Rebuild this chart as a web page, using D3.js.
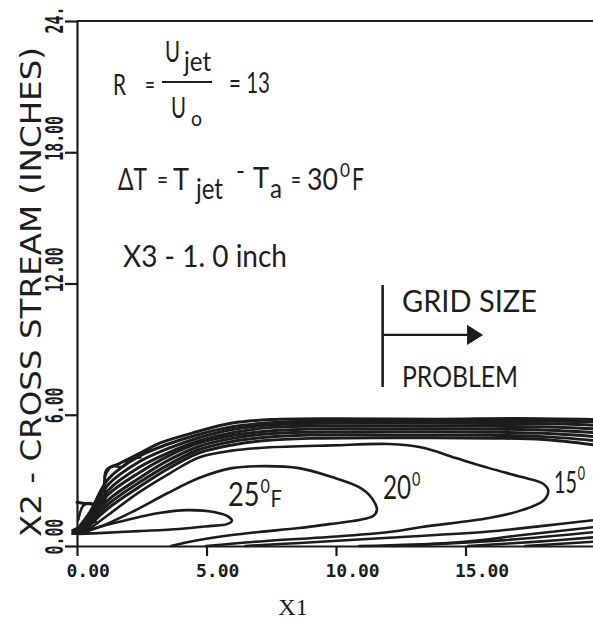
<!DOCTYPE html>
<html>
<head>
<meta charset="utf-8">
<script src="https://cdn.jsdelivr.net/npm/d3@7"></script>
<style>
  body { margin: 0; background: #fff; }
  svg { display: block; }
  .ann { font-family: Lato, "Open Sans", sans-serif; fill: #1e1e1e; }
  .iso { fill: none; stroke: #1c1c1c; stroke-width: 2.6; stroke-linejoin: round; stroke-linecap: round; }
  .iso.edge { stroke-width: 3; }
</style>
</head>
<body>
<div class="js-chart"></div>
<script>
// axis ticks
var xTicks = [0, 5, 10, 15];
var xTickLabels = ['0.00', '5.00', '10.00', '15.00'];
var yTicks = [0, 6, 12, 18, 24];
var yTickLabels = ['0.00', '6.00', '12.00', '18.00', '24.'];

// isotherms, [x1, x2] in inches
var iso25 = [[0.08, 0.59], [0.85, 0.87], [1.93, 1.19], [3.17, 1.51], [4.25, 1.64], [5.29, 1.55], [5.87, 1.32],
  [5.98, 1.14], [5.79, 1.0], [5.1, 0.91], [3.94, 0.78], [2.39, 0.68], [0.85, 0.59], [0.08, 0.55]];
var iso20 = [[0.27, 0.64], [1.04, 0.95], [2.2, 1.6], [3.47, 2.4], [4.71, 3.11], [5.98, 3.56], [7.3, 3.65],
  [8.57, 3.56], [9.85, 3.15], [10.89, 2.69], [11.35, 2.24], [11.58, 1.64], [11.43, 1.37], [10.89, 1.19],
  [9.73, 1.0], [8.57, 0.82], [7.03, 0.64], [5.98, 0.5], [4.71, 0.27], [3.63, 0]];
var iso15 = [[0.39, 0.7], [1.24, 1.45], [2.39, 2.45], [3.55, 3.3], [4.71, 4.05], [5.98, 4.36], [7.3, 4.5],
  [9.85, 4.6], [12.05, 4.66], [13.32, 4.5], [14.63, 4.02], [15.91, 3.56], [17.18, 3.15], [17.95, 2.88],
  [18.19, 2.56], [18.03, 2.1], [17.18, 1.64], [15.91, 1.28], [13.32, 0.87], [12.05, 0.64], [9.73, 0.41],
  [7.3, 0.23], [4.98, 0]];

// the tight band along the edge of the jet
var edge1 = [[0, 2.0], [1.04, 2.0], [1.06, 2.9], [1.14, 3.47], [1.6, 3.75], [2.53, 4.3], [3.19, 4.7], [4.47, 5.17],
  [6.0, 5.62], [7.5, 5.78], [10, 5.82], [14, 5.8], [17, 5.83], [20, 5.78]];
var edge2 = [[0.1, 0.9], [0.5, 1.55], [1.2, 3.05], [2.4, 4.1], [3.5, 4.65], [4.7, 5.1], [6, 5.45], [7.3, 5.62],
  [9, 5.7], [12, 5.72], [16, 5.7], [18, 5.72], [20, 5.68]];
var edge3 = [[0.15, 0.88], [0.5, 1.45], [1.2, 2.8], [2.4, 3.85], [3.5, 4.45], [4.7, 4.95], [6, 5.33], [7.3, 5.52],
  [9, 5.6], [12, 5.62], [16, 5.6], [18, 5.6], [20, 5.52]];
var edge4 = [[0.2, 0.85], [0.5, 1.35], [1.2, 2.55], [2.4, 3.6], [3.5, 4.25], [4.7, 4.8], [6, 5.18], [7.3, 5.4],
  [9, 5.48], [12, 5.5], [16, 5.47], [18, 5.45], [20, 5.35]];
var edge5 = [[0.25, 0.82], [0.5, 1.25], [1.2, 2.35], [2.4, 3.35], [3.5, 4.1], [4.7, 4.7], [6, 5.05], [7.3, 5.25],
  [9, 5.35], [12, 5.36], [16, 5.34], [18, 5.3], [20, 5.18]];
var edge6 = [[0.3, 0.8], [0.5, 1.12], [1.2, 2.1], [2.4, 3.1], [3.5, 3.9], [4.7, 4.55], [6, 4.92], [7.3, 5.12],
  [9, 5.2], [12, 5.22], [16, 5.2], [18, 5.15], [20, 5.0]];
var edge7 = [[0.33, 0.78], [0.5, 1.02], [1.2, 1.9], [2.4, 2.9], [3.5, 3.7], [4.7, 4.4], [6, 4.78], [7.3, 4.97],
  [9, 5.07], [12, 5.08], [16, 5.06], [18, 5.0], [20, 4.82]];
var edge8 = [[0.36, 0.75], [0.5, 0.95], [1.2, 1.72], [2.4, 2.7], [3.5, 3.52], [4.7, 4.25], [6, 4.62], [7.3, 4.82],
  [9, 4.92], [12, 4.95], [16, 4.93], [18, 4.87], [20, 4.62]];
var wiggle1 = [[0.05, 1.2], [0.25, 1.85], [0.55, 1.95], [0.7, 1.6], [0.5, 1.3], [0.8, 1.05]];
var wiggle2 = [[1.08, 3.2], [1.35, 3.65], [1.75, 3.62], [2.05, 3.95], [2.45, 4.05]];

// low lines coming off the floor
var floor1 = [[6.5, 0], [8.6, 0.14], [12.05, 0.38], [15.9, 0.66], [18, 0.92], [20, 1.19]];
var floor2 = [[10.9, 0], [14.6, 0.16], [17.2, 0.5], [20, 0.87]];
var floor3 = [[12.2, 0], [16.5, 0.27], [20, 0.64]];
var floor4 = [[15.1, 0], [17.8, 0.2], [20, 0.4]];
var floor5 = [[17.3, 0], [20, 0.2]];

var nozzle = [[-0.22, 0.5], [0.45, 0.5], [0.5, 0.75], [0.2, 1.0], [-0.22, 0.75]];

var isoLines = [iso25, iso20, iso15, wiggle1, wiggle2, floor1, floor2, floor3, floor4, floor5];
var edgeLines = [edge1, edge2, edge3, edge4, edge5, edge6, edge7, edge8];

function createChart() {
  var width = 593;
  var height = 621;

  var x = d3.scaleLinear().domain([0, 20]).range([77, 595]);
  var y = d3.scaleLinear().domain([0, 24]).range([546, 21]);

  var svg = d3.select('.js-chart').append('svg')
    .attr('width', width)
    .attr('height', height);

  // top frame line
  svg.append('line')
    .attr('x1', x(0)).attr('x2', x(20))
    .attr('y1', y(24)).attr('y2', y(24))
    .attr('stroke', '#1c1c1c')
    .attr('stroke-width', 2.2);

  var xAxis = svg.append('g')
    .attr('transform', `translate(0,${y(0)})`)
    .call(d3.axisBottom(x).tickValues(xTicks).tickSize(10).tickSizeOuter(0)
      .tickFormat((d, i) => xTickLabels[i]));
  xAxis.selectAll('path, line').attr('stroke', '#1c1c1c').attr('stroke-width', 2.2);
  xAxis.selectAll('text')
    .attr('text-anchor', 'start')
    .attr('x', -11)
    .attr('y', 31)
    .attr('dy', 0)
    .attr('fill', '#1c1c1c')
    .style('font-family', '"DejaVu Sans Mono", monospace')
    .style('font-weight', 'bold')
    .style('font-size', '18px');

  var yAxis = svg.append('g')
    .attr('transform', `translate(${x(0)},0)`)
    .call(d3.axisLeft(y).tickValues(yTicks).tickSize(12).tickSizeOuter(0)
      .tickFormat((d, i) => yTickLabels[i]));
  yAxis.selectAll('path, line').attr('stroke', '#1c1c1c').attr('stroke-width', 2.2);
  yAxis.selectAll('text')
    .attr('text-anchor', 'start')
    .attr('x', 0)
    .attr('dy', 0)
    .attr('transform', (d) => `translate(-14,${d === 24 ? 12 : 8}) rotate(-90) scale(0.62,1)`)
    .attr('fill', '#1c1c1c')
    .style('font-family', '"DejaVu Sans Mono", monospace')
    .style('font-weight', 'bold')
    .style('font-size', '24px');

  // axis titles
  svg.append('text')
    .attr('transform', 'translate(41,292) rotate(-90)')
    .attr('text-anchor', 'middle')
    .attr('fill', '#1e1e1e')
    .attr('textLength', 490)
    .attr('lengthAdjust', 'spacingAndGlyphs')
    .style('font-family', '"DejaVu Sans", sans-serif')
    .style('font-size', '28px')
    .text('X2 - CROSS STREAM (INCHES)');
  svg.append('text')
    .attr('x', 293)
    .attr('y', 615)
    .attr('text-anchor', 'middle')
    .attr('fill', '#1e1e1e')
    .style('font-family', '"Liberation Serif", serif')
    .style('font-size', '24px')
    .text('X1');

  var line = d3.line()
    .x((d) => x(d[0]))
    .y((d) => y(d[1]))
    .curve(d3.curveCatmullRom.alpha(0.5));

  svg.append('g').selectAll('path')
    .data(isoLines)
    .enter()
    .append('path')
    .attr('class', 'iso')
    .attr('d', line);

  svg.append('g').selectAll('path')
    .data(edgeLines)
    .enter()
    .append('path')
    .attr('class', 'iso edge')
    .attr('d', line);

  svg.append('path')
    .attr('d', d3.line().x((d) => x(d[0])).y((d) => y(d[1]))(nozzle) + 'Z')
    .attr('fill', '#1c1c1c');

  // grid size arrow
  var ax0 = 11.8, ax1 = 15.06, ax2 = 15.68, ay = 9.65;
  svg.append('line')
    .attr('x1', x(ax0)).attr('x2', x(ax0))
    .attr('y1', y(11.93)).attr('y2', y(7.27))
    .attr('stroke', '#1c1c1c').attr('stroke-width', 2.6);
  svg.append('line')
    .attr('x1', x(ax0)).attr('x2', x(ax1))
    .attr('y1', y(ay)).attr('y2', y(ay))
    .attr('stroke', '#1c1c1c').attr('stroke-width', 2.4);
  svg.append('path')
    .attr('d', d3.line().x((d) => x(d[0])).y((d) => y(d[1]))([[ax1, ay + 0.46], [ax2, ay], [ax1, ay - 0.46]]) + 'Z')
    .attr('fill', '#1c1c1c');

  // annotations: each text is a list of pieces [string, x, baseline, size, width]
  var notes = [
    [['R', 113, 95, 28, 13], ['=', 145, 94, 26, 10]],
    [['U', 165, 62, 29, 15], ['jet', 184, 71, 27, 27]],
    [['U', 171, 118, 29, 15], ['o', 191, 126, 22, 11]],
    [['= 13', 229, 93, 28, 41]],
    [['\u0394T', 118, 190, 31, 29], ['=', 157, 189, 26, 11], ['T', 173, 190, 31, 16], ['jet', 196, 199, 29, 27],
      ['-', 236, 180, 26, 9], ['T', 253, 188, 29, 16], ['a', 270, 198, 26, 12], ['=', 291, 189, 26, 10],
      ['30', 307, 190, 31, 31], ['0', 340, 177, 19, 10], ['F', 352, 190, 31, 12]],
    [['X3 - 1. 0 inch', 123, 267, 30, 164]],
    [['GRID SIZE', 402, 312, 30, 135]],
    [['PROBLEM', 402, 387, 29, 116]]
  ];
  svg.append('g').selectAll('text')
    .data(notes)
    .enter()
    .append('text')
    .attr('class', 'ann')
    .selectAll('tspan')
    .data((d) => d)
    .enter()
    .append('tspan')
    .attr('x', (d) => d[1])
    .attr('y', (d) => d[2])
    .attr('textLength', (d) => d[4])
    .attr('lengthAdjust', 'spacingAndGlyphs')
    .style('font-size', (d) => `${d[3]}px`)
    .text((d) => d[0]);

  // isotherm labels: value, superscript degree, optional unit
  var isoLabels = [
    {v: '25', u: 'F', x: 228, y: 506, s: 32, k: 0.85},
    {v: '20', u: '', x: 383, y: 499, s: 32, k: 0.76},
    {v: '15', u: '', x: 554, y: 493, s: 30, k: 0.66}
  ];
  var lab = svg.append('g').selectAll('text')
    .data(isoLabels)
    .enter()
    .append('text')
    .attr('class', 'ann')
    .attr('transform', (d) => `translate(${d.x},${d.y}) scale(${d.k},1)`)
    .style('font-size', (d) => `${d.s}px`);
  lab.append('tspan').text((d) => d.v);
  lab.append('tspan')
    .attr('dy', -13)
    .attr('dx', 1)
    .style('font-size', '19px')
    .text('0');
  lab.append('tspan')
    .attr('dy', 14)
    .attr('dx', 1)
    .style('font-size', '24px')
    .text((d) => d.u);

  // fraction bar
  svg.append('line')
    .attr('x1', 162).attr('x2', 212)
    .attr('y1', 82).attr('y2', 82)
    .attr('stroke', '#1e1e1e').attr('stroke-width', 2.2);
}

createChart();
</script>
</body>
</html>
